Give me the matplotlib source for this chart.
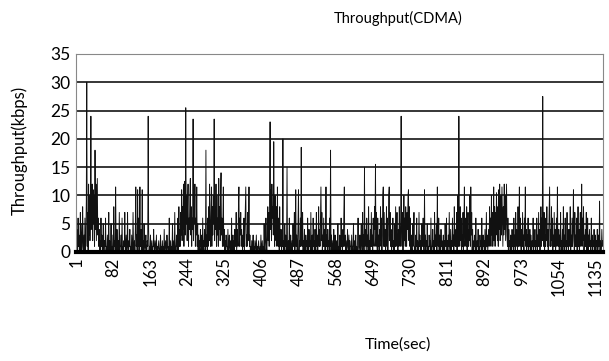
import matplotlib
matplotlib.use("Agg")
import matplotlib.pyplot as plt
import numpy as np

title = "Throughput(CDMA)"
x_label = "Time(sec)"
y_label = "Throughput(kbps)"
tick_step = 81
y_ticks = [0, 5, 10, 15, 20, 25, 30, 35]

throughput = [
    0, 4, 1, 0, 6, 1, 3, 0, 2, 7, 0, 5, 0, 1, 8, 2, 0, 3, 0, 6, 0, 2, 9, 30, 1, 7, 0, 12, 3, 10,
    2, 8, 24, 4, 11, 12, 2, 11, 5, 10, 1, 18, 4, 12, 2, 8, 13, 3, 6, 1,
    4, 0, 2, 0, 6, 1, 3, 0, 1, 5, 0, 0, 2, 1, 6, 0, 1, 0, 3, 0, 1, 7, 0, 2, 0, 1, 5, 0, 1, 0,
    3, 0, 8, 1, 2, 0, 11.5, 1, 0, 4, 1, 0, 2, 0, 7, 0, 1, 1, 3, 0,
    6, 0, 1, 0, 2, 1, 7, 0, 0, 3, 0, 1, 7, 0, 0, 2, 1, 4, 0, 1, 0, 3, 0, 1, 7, 1, 0, 2, 0, 4,
    11.5, 1, 3, 0, 11, 1, 6, 0, 2, 11.5, 1, 4, 0, 1, 11, 0, 2, 0, 5, 1,
    0, 1, 3, 0, 0, 2, 1, 24, 4, 0, 1, 0, 3, 1, 0, 2, 0, 1, 1, 4, 0, 0, 2, 1, 0, 3, 0, 1, 0, 1,
    2, 0, 0, 1, 3, 0, 1, 0, 2, 0, 1, 0, 4, 0, 1, 2, 0, 0, 3, 1,
    0, 1, 0, 6, 1, 0, 2, 0, 1, 0, 5, 1, 0, 2, 0, 7, 0, 1, 1, 3, 0, 2, 6, 0, 8, 1, 4, 1, 7, 3,
    11, 2, 8, 4, 12, 1, 6, 12.5, 3, 25.5, 5, 10, 2, 8, 12, 1, 6, 4, 10, 13,
    3, 8, 1, 6, 4, 23.5, 2, 10, 5, 12, 1, 6, 3, 11.5, 1, 5, 0, 3, 0, 2, 1, 4, 0, 1, 3, 0, 6, 0, 2, 1,
    4, 0, 1, 18, 1, 3, 0, 6, 1, 8, 2, 12, 4, 1, 7, 11.5, 1, 8, 3, 10,
    5, 23.5, 2, 8, 4, 12, 1, 10, 3, 6, 1, 13, 4, 8, 2, 10, 14, 3, 6, 1, 5, 11.5, 1, 4, 0, 2, 0, 3, 1, 1,
    0, 4, 0, 1, 3, 0, 1, 2, 0, 6, 0, 1, 3, 0, 2, 0, 4, 1, 1, 7,
    0, 2, 4, 1, 8, 11.5, 1, 6, 3, 7, 1, 4, 2, 0, 3, 1, 6, 0, 4, 8, 11.5, 1, 3, 1, 7, 2, 4, 11.5, 1, 3,
    0, 1, 0, 2, 0, 1, 3, 0, 1, 0, 2, 1, 0, 3, 0, 1, 0, 1, 2, 0,
    0, 1, 0, 3, 0, 1, 2, 0, 1, 0, 5, 1, 0, 2, 6, 1, 0, 3, 8, 2, 7, 1, 10, 23, 4, 11, 2, 12, 6, 8,
    3, 19.5, 7, 1, 10, 4, 2, 8, 1, 11.5, 3, 1, 6, 0, 8, 2, 1, 4, 0, 3,
    1, 20, 0, 2, 0, 5, 1, 3, 0, 1, 15, 1, 0, 2, 0, 6, 1, 0, 3, 1, 0, 2, 0, 5, 1, 1, 7, 0, 2, 11,
    1, 3, 0, 1, 5, 11, 0, 2, 1, 6, 1, 18.5, 3, 1, 7, 0, 2, 0, 4, 1,
    0, 3, 1, 2, 0, 6, 1, 0, 4, 1, 2, 0, 7, 0, 1, 3, 0, 6, 1, 2, 0, 4, 1, 0, 7, 1, 3, 0, 2, 8,
    1, 4, 1, 6, 11.5, 2, 7, 0, 3, 1, 6, 1, 4, 0, 2, 11.5, 1, 3, 0, 4,
    1, 2, 0, 6, 1, 18, 0, 3, 1, 0, 2, 0, 4, 1, 0, 3, 1, 0, 2, 0, 1, 5, 0, 1, 0, 3, 1, 0, 6, 1,
    2, 0, 4, 1, 7, 11.5, 1, 3, 0, 2, 0, 1, 4, 1, 0, 3, 0, 2, 1, 1,
    0, 3, 0, 1, 1, 5, 0, 2, 0, 1, 3, 0, 1, 0, 2, 6, 1, 0, 1, 3, 0, 2, 5, 1, 0, 7, 1, 3, 0, 15,
    1, 4, 2, 0, 6, 1, 3, 0, 8, 1, 2, 0, 4, 1, 7, 1, 3, 0, 6, 2,
    1, 8, 4, 15.5, 1, 7, 2, 0, 6, 1, 3, 0, 4, 1, 8, 2, 6, 0, 3, 10, 11.5, 1, 7, 1, 4, 0, 2, 8, 1, 6,
    0, 3, 10, 11.5, 2, 7, 1, 4, 0, 3, 1, 6, 0, 2, 0, 5, 1, 8, 1, 3,
    7, 2, 0, 4, 1, 8, 3, 1, 6, 24, 4, 1, 7, 0, 3, 10, 2, 6, 1, 8, 3, 1, 7, 4, 10, 11, 2, 8, 1, 6,
    0, 3, 1, 0, 5, 1, 2, 7, 0, 1, 0, 3, 1, 6, 0, 2, 0, 1, 7, 1,
    3, 0, 2, 0, 5, 1, 1, 6, 2, 0, 11, 1, 3, 0, 2, 1, 5, 0, 1, 0, 3, 1, 2, 0, 6, 0, 1, 1, 4, 0,
    2, 0, 7, 1, 3, 1, 5, 0, 11.5, 2, 1, 6, 0, 3, 1, 0, 4, 1, 2, 0,
    1, 3, 0, 2, 0, 5, 1, 1, 6, 0, 2, 0, 3, 1, 7, 1, 0, 4, 0, 2, 1, 6, 1, 3, 0, 8, 2, 1, 4, 1,
    7, 0, 3, 10, 1, 24, 4, 1, 8, 2, 6, 0, 3, 1, 7, 0, 4, 11.5, 1, 2,
    6, 1, 8, 0, 3, 7, 1, 4, 2, 10, 1, 11.5, 3, 7, 0, 4, 1, 0, 2, 1, 3, 0, 6, 1, 0, 2, 1, 4, 0, 1,
    0, 3, 1, 2, 0, 6, 1, 0, 3, 1, 2, 0, 4, 0, 1, 7, 1, 3, 0, 2,
    4, 1, 8, 2, 6, 1, 10, 3, 7, 1, 4, 11.5, 2, 8, 1, 7, 3, 10.5, 6, 2, 8, 1, 11, 4, 12, 2, 7, 10, 3, 11.5,
    6, 1, 8, 3, 12, 4, 10, 2, 7, 12, 3, 1, 6, 0, 4, 1, 2, 0, 3, 1,
    0, 4, 1, 2, 0, 6, 1, 3, 0, 7, 1, 4, 2, 0, 8, 1, 3, 11.5, 1, 6, 2, 0, 4, 1, 7, 1, 3, 0, 6, 2,
    11.5, 1, 4, 0, 3, 1, 6, 0, 2, 1, 4, 0, 3, 1, 0, 2, 1, 6, 0, 3,
    1, 4, 0, 2, 1, 6, 0, 3, 1, 7, 1, 4, 0, 3, 8, 1, 6, 2, 27.5, 4, 1, 7, 0, 3, 1, 6, 2, 8, 1, 4,
    0, 3, 7, 11.5, 1, 4, 1, 8, 2, 6, 0, 3, 1, 7, 1, 4, 0, 2, 6, 1,
    11.5, 2, 1, 4, 0, 3, 1, 7, 0, 2, 1, 4, 0, 8, 1, 3, 0, 6, 1, 2, 0, 7, 1, 3, 0, 4, 1, 2, 8, 0,
    3, 1, 6, 1, 4, 11, 2, 0, 7, 1, 3, 1, 6, 0, 2, 8, 1, 4, 0, 3,
    7, 1, 4, 12, 1, 6, 2, 8, 0, 3, 1, 4, 1, 7, 0, 2, 6, 0, 3, 1, 4, 1, 2, 0, 6, 1, 3, 0, 2, 1,
    4, 0, 1, 3, 0, 2, 1, 4, 0, 1, 3, 1, 9, 0, 2, 0, 1, 4, 1, 2,
]

time_sec = np.arange(1, len(throughput) + 1)
tick_pos = list(range(1, len(throughput) + 1, tick_step))
tick_labels = [str(t) for t in tick_pos]

plt.rcParams["font.family"] = ["Lato", "DejaVu Sans"]

fig = plt.figure(figsize=(6.09, 3.61), dpi=100)
ax = fig.add_axes([76 / 609, 1 - 252 / 361, (603 - 76) / 609, (252 - 54) / 361])

for y in y_ticks[1:-1]:
    ax.axhline(y, color="black", lw=1.1, zorder=1)
ax.plot(time_sec, throughput, color="#111111", lw=0.65, zorder=2)

ax.set_xlim(0.5, len(throughput) + 0.5)
ax.set_ylim(0, 35)
ax.set_yticks(y_ticks)
ax.set_yticklabels([str(v) for v in y_ticks], fontsize=12.5)
ax.set_xticks(tick_pos)
ax.set_xticklabels(tick_labels, rotation=90, fontsize=12)
ax.tick_params(length=0, pad=4)

for s in ["left", "right", "top"]:
    ax.spines[s].set_color("#888888")
    ax.spines[s].set_linewidth(0.8)
    ax.spines[s].set_linestyle((0, (2, 1)))
ax.spines["bottom"].set_color("black")
ax.spines["bottom"].set_linewidth(3)

fig.text(398 / 609, 1 - 18 / 361, title, ha="center", va="center", fontsize=10.5)
fig.text(398 / 609, 1 - 345 / 361, x_label, ha="center", va="center", fontsize=11.5)
fig.text(19 / 609, 1 - 150 / 361, y_label, ha="center", va="center", rotation=90, fontsize=12)

fig.savefig("out.png", dpi=100)
